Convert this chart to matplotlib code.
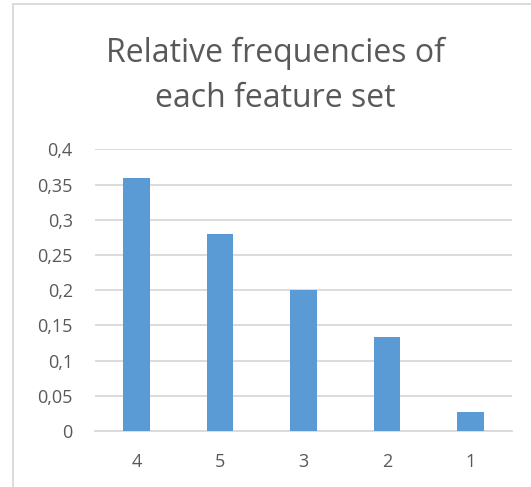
import matplotlib.pyplot as plt
from matplotlib.ticker import FuncFormatter

categories = ['4', '5', '3', '2', '1']
frequencies = [0.36, 0.28, 0.2, 0.1333, 0.0267]
y_ticks = [0, 0.05, 0.1, 0.15, 0.2, 0.25, 0.3, 0.35, 0.4]

plt.rcParams['font.family'] = ['Open Sans', 'DejaVu Sans']
text_color = '#595959'

fig = plt.figure(figsize=(5.31, 4.87), dpi=100)
ax = fig.add_axes([95 / 531, 1 - 431 / 487, 417 / 531, (431 - 149.5) / 487])

ax.bar(range(len(categories)), frequencies, width=0.32, color='#5B9BD5', zorder=3)

ax.set_xlim(-0.5, len(categories) - 0.5)
ax.set_ylim(0, 0.4)
ax.set_xticks(range(len(categories)))
ax.set_xticklabels(categories)
ax.set_yticks(y_ticks)
ax.yaxis.set_major_formatter(FuncFormatter(lambda v, _: ('%g' % v).replace('.', ',')))

ax.grid(axis='y', color='#D9D9D9', linewidth=1.3, zorder=0)
for side in ['top', 'right', 'left']:
    ax.spines[side].set_visible(False)
ax.spines['bottom'].set_color('#D9D9D9')
ax.spines['bottom'].set_linewidth(1.3)
ax.tick_params(length=0, labelsize=13, colors=text_color)
ax.tick_params(axis='y', pad=16)
ax.tick_params(axis='x', pad=16)

fig.text(0.5 + 10 / 531, 1 - 76 / 487, 'Relative frequencies of\neach feature set',
         ha='center', va='center', fontsize=23, color=text_color, linespacing=1.5)

# chart frame (left and top edges only)
fig.add_artist(plt.Line2D([13 / 531, 13 / 531], [0, 1 - 4 / 487], color='#D9D9D9', linewidth=1.3))
fig.add_artist(plt.Line2D([13 / 531, 1], [1 - 4 / 487, 1 - 4 / 487], color='#D9D9D9', linewidth=1.3))

fig.savefig('out.png', dpi=100)
